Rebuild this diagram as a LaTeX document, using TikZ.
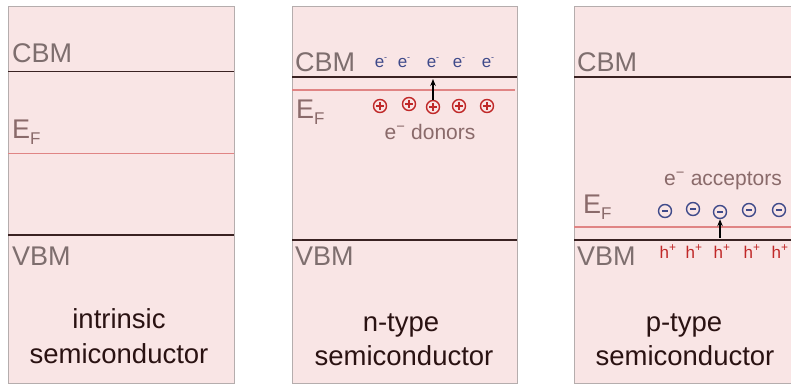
\documentclass[tikz,border=0pt]{standalone}
\usepackage{fontspec}
\setmainfont{Liberation Sans}
\usetikzlibrary{arrows.meta}
\definecolor{panelfill}{HTML}{F9E5E5}
\definecolor{panelborder}{HTML}{B5ADAD}
\definecolor{bandline}{HTML}{3A2222}
\definecolor{fermiline}{HTML}{E08484}
\definecolor{labelgrey}{HTML}{7E6E6E}
\definecolor{efcol}{HTML}{8A6A6A}
\definecolor{titlecol}{HTML}{2A1212}
\definecolor{ecol}{HTML}{3F4A8A}
\definecolor{hcol}{HTML}{C02828}
\tikzset{
  panel/.style={fill=panelfill, draw=panelborder, line width=1pt},
  band/.style={draw=bandline, line width=1.4pt},
  fermi/.style={draw=fermiline, line width=1.1pt},
  lbl/.style={anchor=base west, inner sep=0pt, text=labelgrey, font=\fontsize{27}{30}\selectfont},
  eflbl/.style={anchor=base west, inner sep=0pt, text=efcol, font=\fontsize{27}{30}\selectfont},
  title/.style={anchor=base, inner sep=0pt, text=titlecol, font=\fontsize{27.5}{30}\selectfont},
  dopelbl/.style={anchor=base, inner sep=0pt, text=efcol, font=\fontsize{21}{24}\selectfont},
  elec/.style={anchor=base, inner sep=0pt, text=ecol, font=\fontsize{17}{18}\selectfont},
  hole/.style={anchor=base, inner sep=0pt, text=hcol, font=\fontsize{17}{18}\selectfont},
  donor/.style={circle, draw=hcol, line width=1.4pt, minimum size=13pt, inner sep=0pt,
    path picture={\draw[hcol, line width=1.3pt]
      ([xshift=-3.8pt]path picture bounding box.center) -- ([xshift=3.8pt]path picture bounding box.center)
      ([yshift=-3.8pt]path picture bounding box.center) -- ([yshift=3.8pt]path picture bounding box.center);}},
  acceptor/.style={circle, draw=ecol, line width=1.4pt, minimum size=13pt, inner sep=0pt,
    path picture={\draw[ecol, line width=1.3pt]
      ([xshift=-2.6pt]path picture bounding box.center) -- ([xshift=2.6pt]path picture bounding box.center);}},
  jump/.style={-{Stealth[length=7pt,width=5.5pt]}, line width=1.3pt, draw=black},
}
\newcommand{\efsym}{E\raisebox{-0.25em}{\fontsize{17}{18}\selectfont F}}
\newcommand{\elsup}{e\raisebox{0.45em}{\fontsize{9}{10}\selectfont -}}
\begin{document}
\begin{tikzpicture}[x=1pt,y=-1pt]
\useasboundingbox (0,0) rectangle (791,385);
\clip (0,0) rectangle (791,385);
\fill[white] (0,0) rectangle (791,385);

% ---------- panel 1: intrinsic ----------
\draw[panel] (8,7) rectangle (234,383);
\draw[band] (8,71.5) -- (234,71.5);
\draw[fermi] (8,153.5) -- (234,153.5);
\draw[band] (8,235) -- (234,235);
\node[lbl] (cbm1) at (12,63) {CBM};
\node[eflbl] (ef1) at (12,138) {\efsym};
\node[lbl] (vbm1) at (12,265) {VBM};
\node[title] (t1a) at (119,328) {intrinsic};
\node[title] (t1b) at (119,363) {semiconductor};

% ---------- panel 2: n-type ----------
\draw[panel] (292,7) rectangle (517,383);
\draw[band] (292,77) -- (517,77);
\draw[fermi] (292,90) -- (515,90);
\draw[band] (292,240) -- (517,240);
\node[lbl] (cbm2) at (295,72) {CBM};
\node[eflbl] (ef2) at (296,118) {\efsym};
\node[lbl] (vbm2) at (295,265) {VBM};
\foreach \i/\x in {1/381,2/404,3/433,4/459,5/488}{
  \node[elec] (e\i) at (\x,68) {\elsup};
}
\node[donor] (d1) at (380,106) {};
\node[donor] (d2) at (409,104) {};
\node[donor] (d3) at (433,107) {};
\node[donor] (d4) at (459,106) {};
\node[donor] (d5) at (487,106) {};
\coordinate (cbmhit) at (433,79);
\draw[jump] (d3.north) -- (cbmhit);
\node[dopelbl] (don) at (430,139) {e\textsuperscript{−} donors};
\node[title] (t2a) at (401,331) {n-type};
\node[title] (t2b) at (404,365) {semiconductor};

% ---------- panel 3: p-type ----------
\draw[panel] (574,7) rectangle (802,383);
\draw[band] (574,77) -- (802,77);
\draw[fermi] (574,227) -- (802,227);
\draw[band] (574,240) -- (802,240);
\node[lbl] (cbm3) at (577,72) {CBM};
\node[eflbl] (ef3) at (583,213) {\efsym};
\node[lbl] (vbm3) at (577,265) {VBM};
\node[dopelbl] (acc) at (723,185) {e\textsuperscript{−} acceptors};
\node[acceptor] (a1) at (665,211) {};
\node[acceptor] (a2) at (693,209) {};
\node[acceptor] (a3) at (720,212) {};
\node[acceptor] (a4) at (749,210) {};
\node[acceptor] (a5) at (779,210) {};
\coordinate (vbmhit) at (720,238);
\draw[jump] (vbmhit) -- (a3.south);
\foreach \i/\x in {1/668,2/694,3/722,4/752,5/780}{
  \node[hole] (h\i) at (\x,258) {h\textsuperscript{+}};
}
\node[title] (t3a) at (684,331) {p-type};
\node[title] (t3b) at (685,365) {semiconductor};
\end{tikzpicture}
\end{document}
